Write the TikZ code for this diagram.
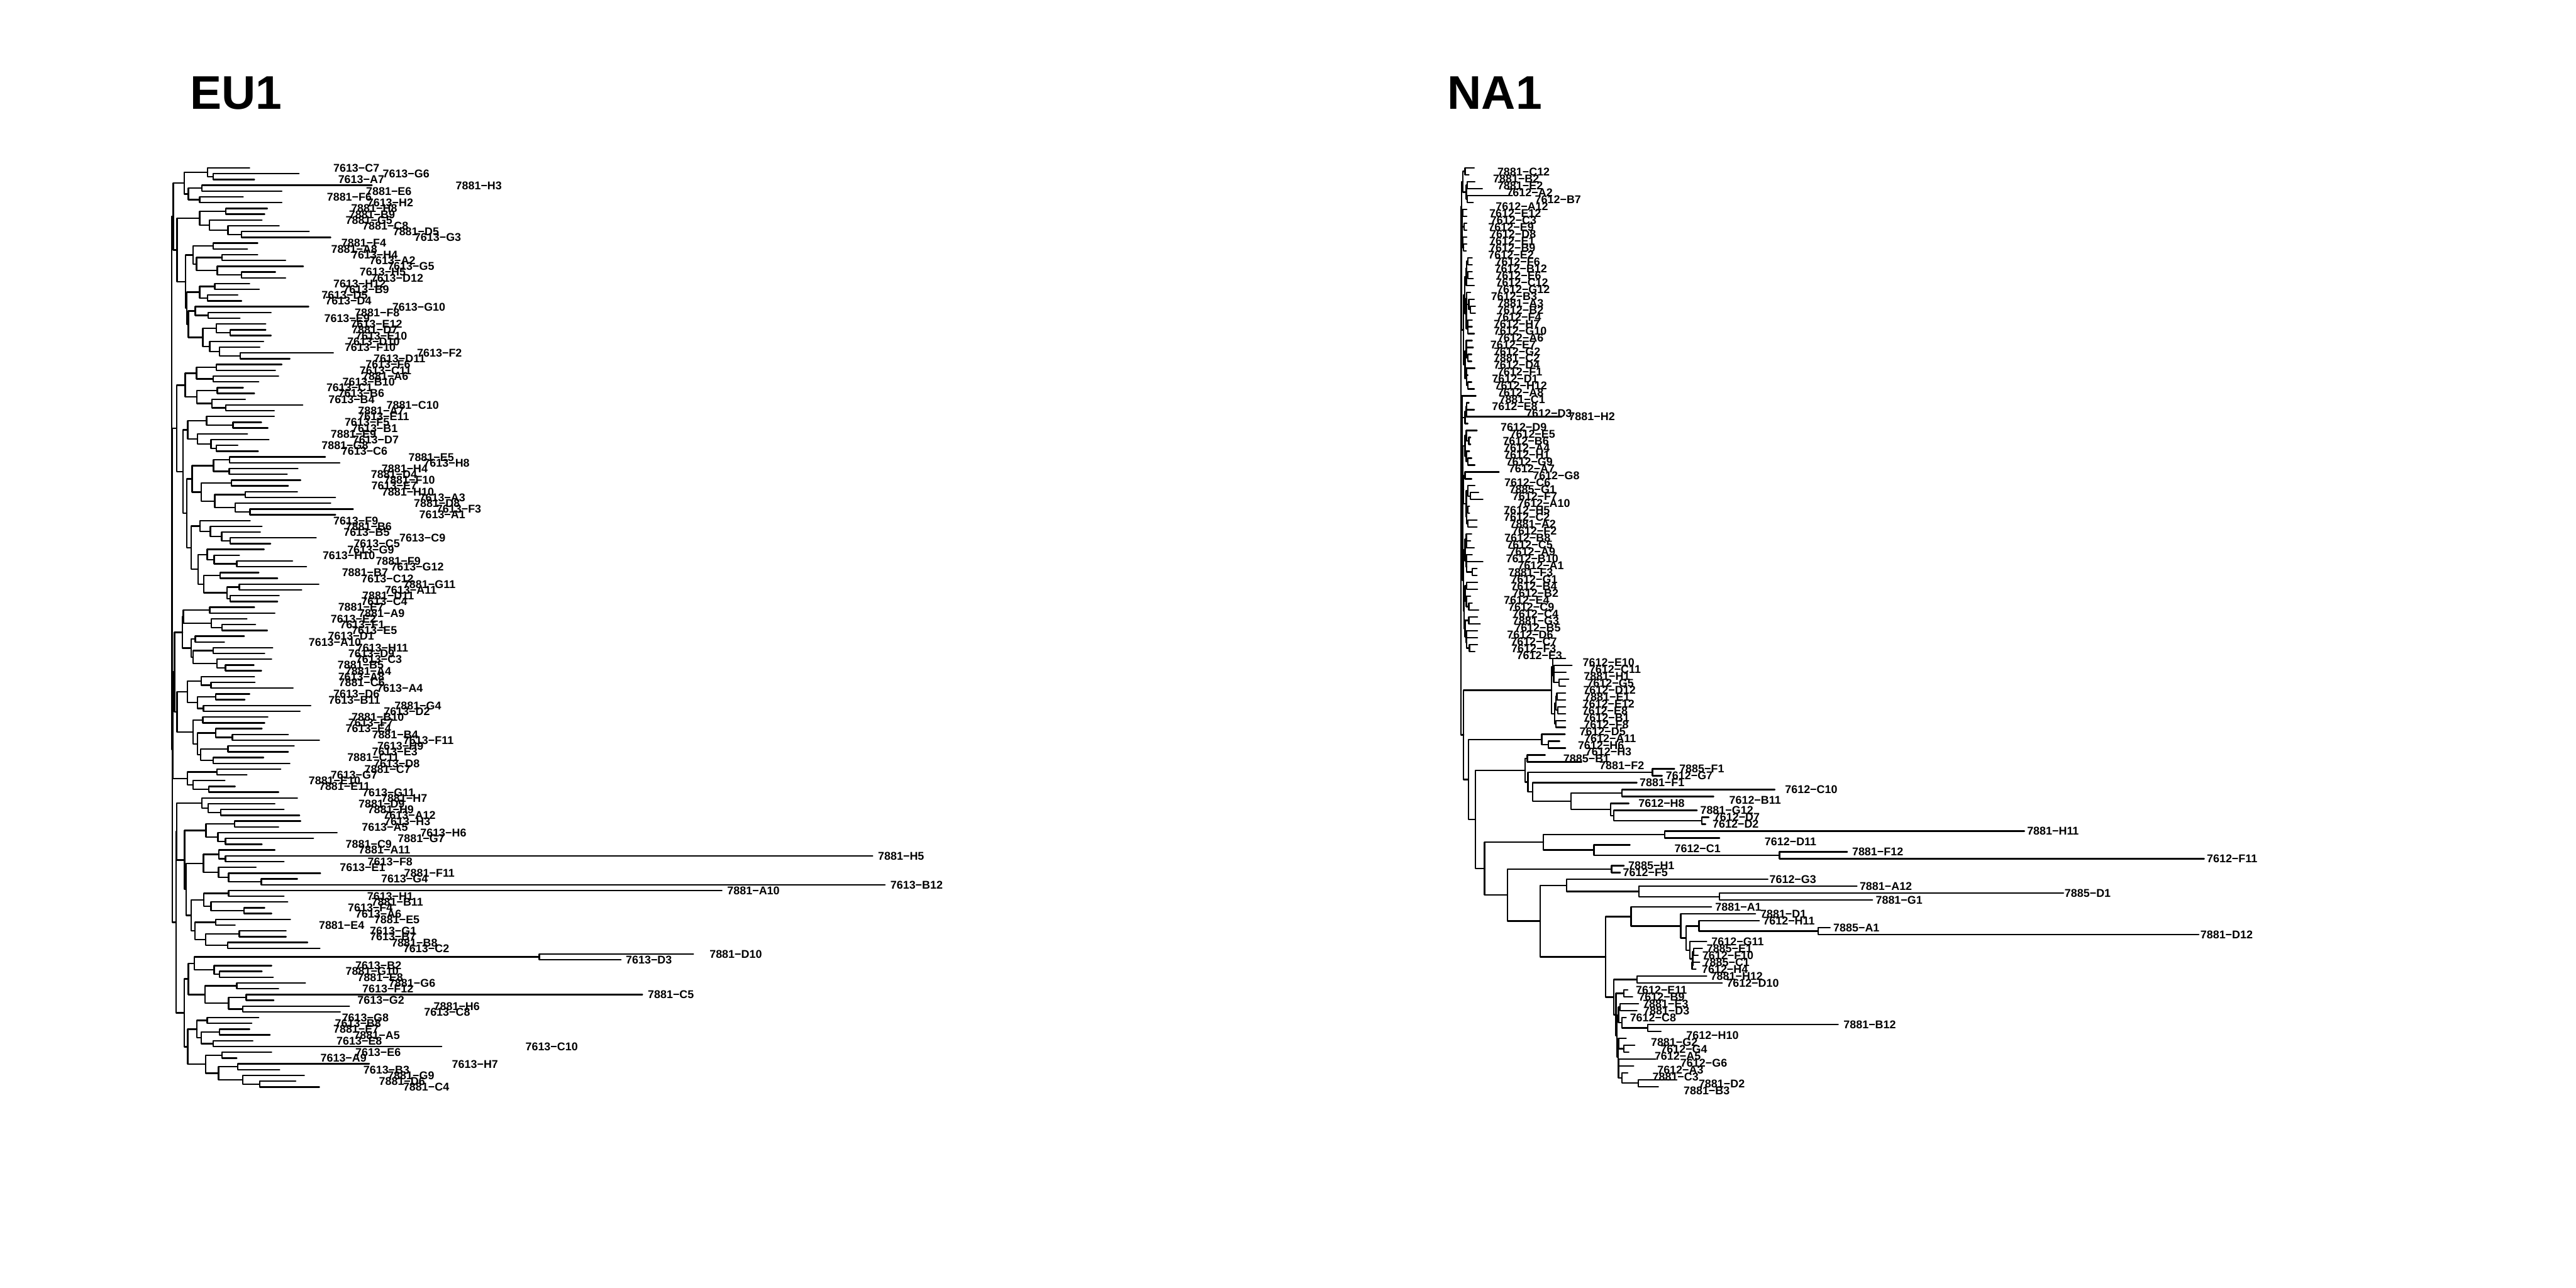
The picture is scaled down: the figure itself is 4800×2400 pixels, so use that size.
\documentclass[tikz,border=0pt]{standalone}
\usepackage{fontspec}
\setmainfont{Liberation Sans}
\usetikzlibrary{calc}

% one internal node: prefix, first tip, last tip of first child, last tip, x
\newcommand\clade[5]{%
  \edef\cladeA{#1#2\ifnum#2=#3 \else-#3\fi}%
  \edef\cladeB{#1\the\numexpr#3+1\relax\ifnum\numexpr#3+1\relax=#4 \else-#4\fi}%
  \edef\cladeN{#1#2-#4}%
  \path let \p1=(\cladeA), \p2=(\cladeB) in coordinate (\cladeN) at (#5pt,{0.5*(\y1+\y2)});
  \draw[branch] (\cladeA) -- (\cladeA -| \cladeN) -- (\cladeB -| \cladeN) -- (\cladeB);
}

\begin{document}
\begin{tikzpicture}[x=1pt,y=-1pt,
  branch/.style={line width=2.8pt,line cap=round,line join=round},
  tiplab/.style={anchor=west,inner sep=0pt,text height=15pt,text depth=0pt,font=\fontsize{21}{21}\selectfont\bfseries},
  paneltitle/.style={anchor=base west,inner sep=0pt,font=\fontsize{88}{88}\selectfont\bfseries}]
\useasboundingbox (0,0) rectangle (4800,2400);

\node[paneltitle] (eutitle) at (354,203) {EU1};
\node[paneltitle] (natitle) at (2697,203) {NA1};

% EU1
\foreach \n/\tx/\lx/\lab in {
1/465/621/7613−C7, 2/557/713/7613−G6, 3/474/630/7613−A7, 4/693/849/7881−H3,
5/525/682/7881−E6, 6/453/609/7881−F6, 7/525/684/7613−H2, 8/498/654/7881−H8,
9/493/650/7881−B9, 10/488/644/7881−G5, 11/520/675/7881−C8, 12/576/732/7881−D5,
13/616/772/7613−G3, 14/480/636/7881−F4, 15/461/617/7881−A8, 16/480/655/7613−H4,
17/532/688/7613−A2, 18/565/722/7613−G5, 19/513/670/7613−H5, 20/532/691/7613−D12,
21/465/621/7613−H12, 22/483/639/7613−B9, 23/443/599/7613−D5, 24/450/606/7613−D4,
25/575/731/7613−G10, 26/505/661/7881−F8, 27/447/604/7613−E9, 28/495/653/7613−E12,
29/495/655/7881−D7, 30/505/662/7613−E10, 31/491/647/7613−D10, 32/484/642/7613−F10,
33/621/777/7613−F2, 34/540/696/7613−D11, 35/525/681/7613−F6, 36/513/670/7613−C11,
37/519/675/7881−A6, 38/482/638/7613−B10, 39/453/608/7613−C1, 40/474/630/7613−B6,
41/457/612/7613−B4, 42/564/720/7881−C10, 43/511/667/7881−A7, 44/511/667/7613−E11,
45/487/642/7613−F5, 46/499/655/7613−B1, 47/461/616/7881−E9, 48/501/657/7613−D7,
49/443/599/7881−G8, 50/481/636/7613−C6, 51/606/761/7881−E5, 52/633/789/7613−H8,
53/555/711/7881−H4, 54/535/691/7881−D4, 55/560/715/7881−F10, 56/537/692/7613−E7,
57/554/711/7881−H10, 58/625/781/7613−A3, 59/616/771/7881−D8, 60/658/813/7613−F3,
61/625/781/7613−A1, 62/466/621/7613−F9, 63/488/644/7881−B6, 64/485/640/7613−B5,
65/589/744/7613−C9, 66/504/659/7613−C5, 67/492/647/7613−G9, 68/446/601/7613−H10,
69/545/700/7881−F9, 70/571/728/7613−G12, 71/482/637/7881−B7, 72/517/673/7613−C12,
73/594/751/7881−G11, 74/562/717/7613−A11, 75/520/675/7881−D11, 76/517/673/7613−C4,
77/474/630/7881−E7, 78/512/668/7881−A9, 79/460/616/7613−E2, 80/476/633/7613−F1,
81/498/655/7613−E5, 82/455/611/7613−D1, 83/418/575/7613−A10, 84/508/664/7613−H11,
85/493/649/7613−D9, 86/506/663/7613−C3, 87/473/629/7881−B5, 88/487/643/7881−A4,
89/474/630/7613−A8, 90/475/631/7881−C6, 91/546/702/7613−A4, 92/465/621/7613−D6,
93/456/612/7613−B11, 94/579/735/7881−G4, 95/559/715/7613−D2, 96/499/655/7881−B10,
97/493/649/7613−F7, 98/488/644/7613−E4, 99/537/693/7881−B4, 100/595/751/7613−F11,
101/548/703/7613−H9, 102/537/693/7613−E3, 103/491/647/7881−C11, 104/540/696/7613−D8,
105/523/679/7881−C7, 106/460/616/7613−G7, 107/419/575/7881−E10, 108/438/594/7881−E11,
109/519/675/7613−G11, 110/554/710/7881−H7, 111/512/668/7881−D9, 112/529/685/7881−H9,
113/558/714/7613−A12, 114/560/716/7613−H3, 115/519/674/7613−A5, 116/628/783/7613−H6,
117/584/741/7881−G7, 118/488/644/7881−C9, 119/512/668/7881−A11, 120/1626/1636/7881−H5,
121/529/685/7613−F8, 122/477/633/7613−E1, 123/597/753/7881−F11, 124/554/710/7613−G4,
125/1649/1659/7613−B12, 126/1345/1355/7881−A10, 127/529/684/7613−H1, 128/536/692/7881−B11,
129/493/648/7613−F4, 130/506/662/7613−A6, 131/541/697/7881−E5, 132/438/594/7881−E4,
133/533/689/7613−G1, 134/533/689/7613−B7, 135/573/729/7881−B8, 136/596/751/7613−C2,
137/1292/1322/7881−D10, 138/1157/1166/7613−D3, 139/506/662/7613−B2, 140/488/644/7881−G10,
141/509/666/7881−E8, 142/569/724/7881−G6, 143/519/675/7613−F12, 144/1197/1207/7881−C5,
145/510/666/7613−G2, 146/651/808/7881−H6, 147/634/790/7613−C8, 148/482/637/7613−G8,
149/469/624/7613−B8, 150/465/621/7881−E7, 151/503/659/7881−A5, 152/471/627/7613−E8,
153/823/979/7613−C10, 154/506/662/7613−E6, 155/441/597/7613−A9, 156/688/842/7613−H7,
157/521/677/7613−B3, 158/567/722/7881−G9, 159/551/706/7881−D6, 160/595/751/7881−C4}{
  \coordinate (e\n) at (\tx,{313+(\n-1)*10.77});
  \node[tiplab] (el\n) at (\lx,{313+(\n-1)*10.77}) {\lab};
}
\foreach \ci/\ck/\cj/\cx in {
2/2/3/397, 1/1/3/387, 4/4/5/376, 6/6/7/372, 4/5/7/351, 1/3/7/343,
8/8/9/421, 12/12/13/450, 11/11/13/425, 10/10/13/390, 8/9/13/372,
14/14/15/397, 16/16/17/414, 19/19/20/450, 18/18/20/405, 16/17/20/366, 14/15/20/360,
21/21/22/400, 23/23/24/387, 21/22/24/372, 26/26/27/388, 25/25/27/364,
29/29/30/429, 28/28/30/403, 33/33/34/448, 32/32/34/409, 31/31/34/391, 28/30/34/378,
25/27/34/351, 21/24/34/348, 14/20/34/346, 8/13/34/330, 1/7/34/323,
35/35/36/403, 37/37/38/397, 35/36/38/366, 39/39/40/405, 42/42/43/420.5, 41/41/43/394.6,
39/40/43/367, 35/38/43/345, 45/45/46/434, 44/44/46/385, 49/49/50/403, 48/48/50/393,
47/47/50/368, 44/46/50/350, 51/51/52/428, 53/53/54/427, 51/52/54/398, 55/55/56/431,
57/57/58/457, 60/60/61/466, 59/59/61/438, 57/58/61/400, 55/56/61/375, 51/54/61/358,
65/65/66/429, 64/64/66/413, 63/63/66/392, 62/62/66/373, 69/69/70/441, 68/68/70/399,
67/67/70/386, 71/71/72/410, 73/73/74/446, 75/75/76/429, 73/74/76/423, 71/72/76/380,
67/70/76/369, 62/66/76/356, 51/61/76/348, 44/50/76/341, 35/43/76/329,
77/77/78/391, 80/80/81/414, 79/79/81/394, 77/78/81/341.5, 82/82/83/364, 84/84/85/397,
87/87/88/420, 86/86/88/404, 84/85/88/360, 82/83/88/356, 77/81/88/340,
90/90/91/393, 89/89/91/375, 92/92/93/402, 94/94/95/379, 92/93/95/368, 89/91/95/349,
96/96/97/378, 99/99/100/433, 98/98/100/402, 101/101/102/425, 103/103/104/397,
101/102/104/374, 98/100/104/368, 96/97/104/360, 89/95/104/330, 77/88/104/325,
105/105/106/404, 108/108/109/389, 107/107/109/360, 105/106/109/349, 77/104/109/322,
112/112/113/411, 111/111/113/388, 110/110/113/376, 114/114/115/437, 117/117/118/420,
116/116/118/406, 114/115/118/384, 120/120/121/420, 119/119/121/408, 124/124/125/487,
123/123/125/426, 122/122/125/407, 119/121/125/379, 126/126/127/426, 129/129/130/455,
128/128/130/393, 126/127/130/380, 131/131/132/402, 133/133/134/446, 135/135/136/424,
133/134/136/383, 131/132/136/363, 126/130/136/356, 119/125/136/347, 114/118/136/344,
110/113/136/329, 137/137/138/1005, 140/140/141/409, 139/139/141/399, 137/138/141/362,
142/142/143/441, 144/144/145/459, 146/146/147/452, 144/145/147/426, 142/143/147/382,
137/141/147/351, 148/148/149/386, 150/150/151/409, 152/152/153/397, 150/151/153/375,
148/149/153/367, 154/154/155/414, 156/156/157/443, 159/159/160/484, 158/158/160/452,
156/157/160/407, 154/155/160/383, 148/153/160/350, 137/147/160/343, 110/136/160/328,
35/76/109/321, 35/109/160/321, 1/34/160/320}{
  \clade{e}{\ci}{\ck}{\cj}{\cx}
}

% NA1
\foreach \n/\tx/\lx/\lab in {
1/2747/2790/7881−C12, 2/2737/2782/7881−B2, 3/2748/2790/7881−E2, 4/2762/2807/7612−A2,
5/2818/2860/7612−B7, 6/2745/2787/7612−A12, 7/2733/2775/7612−E12, 8/2733/2777/7612−C3,
9/2733/2773/7612−E9, 10/2733/2776/7612−D8, 11/2733/2775/7612−E1, 12/2733/2775/7612−B9,
13/2732/2773/7612−E2, 14/2743/2786/7612−F6, 15/2743/2785/7612−B12, 16/2743/2787/7612−E6,
17/2745/2787/7612−C12, 18/2747/2789/7612−G12, 19/2740/2778/7612−B3, 20/2747/2790/7881−A3,
21/2749/2790/7612−B2, 22/2749/2788/7612−F4, 23/2743/2783/7612−H7, 24/2743/2783/7612−G10,
25/2747/2790/7612−A6, 26/2743/2777/7612−E7, 27/2745/2783/7612−G2, 28/2742/2783/7881−C2,
29/2742/2783/7612−D4, 30/2748/2790/7612−F1, 31/2735/2780/7612−D1, 32/2742/2785/7612−H12,
33/2747/2790/7612−A8, 34/2750/2793/7881−C1, 35/2737/2780/7612−E8, 36/2747/2843/7612−D3,
37/2910/2923/7881−H2, 38/2735/2796/7612−D9, 39/2752/2813/7612−E5, 40/2740/2800/7612−B6,
41/2740/2802/7612−A4, 42/2738/2802/7612−H1, 43/2742/2806/7612−G9, 44/2748/2811/7612−A7,
45/2793/2856/7612−G8, 46/2742/2803/7612−C6, 47/2748/2812/7885−G1, 48/2755/2818/7612−F7,
49/2763/2828/7612−A10, 50/2738/2802/7612−H5, 51/2738/2802/7612−C2, 52/2752/2813/7881−A2,
53/2752/2817/7612−F2, 54/2742/2803/7612−B8, 55/2740/2807/7612−C5, 56/2747/2812/7612−A9,
57/2743/2806/7612−B10, 58/2763/2828/7612−A1, 59/2752/2810/7881−F3, 60/2752/2815/7612−G1,
61/2753/2815/7612−B4, 62/2753/2818/7612−B2, 63/2740/2802/7612−E4, 64/2743/2810/7612−C9,
65/2755/2818/7612−C4, 66/2753/2818/7881−G3, 67/2758/2822/7612−B5, 68/2753/2808/7612−D6,
69/2753/2815/7612−C7, 70/2753/2816/7612−F3, 71/2748/2826/7612−E3, 72/2917/2949/7612−E10,
73/2929/2961/7612−C11, 74/2918/2951/7881−H1, 75/2923/2957/7612−G5, 76/2917/2950/7612−D12,
77/2917/2952/7881−E1, 78/2917/2949/7612−E12, 79/2917/2948/7612−E8, 80/2917/2950/7612−B1,
81/2917/2951/7612−F8, 82/2917/2943/7612−D5, 83/2916/2952/7612−A11, 84/2906/2940/7612−H6,
85/2917/2954/7612−H3, 86/2879/2913/7885−B1, 87/2947/2980/7881−F2, 88/3120/3129/7885−F1,
89/3097/3104/7612−G7, 90/3050/3055/7881−F1, 91/3307/3326/7612−C10, 92/3193/3222/7612−B11,
93/3035/3053/7612−H8, 94/3162/3168/7881−G12, 95/3184/3193/7612−D7, 96/3178/3191/7612−D2,
97/3772/3777/7881−H11, 98/3204/3288/7612−D11, 99/3037/3120/7612−C1, 100/3442/3451/7881−F12,
101/4107/4112/7612−F11, 102/3026/3034/7885−H1, 103/3019/3024/7612−F5, 104/3294/3297/7612−G3,
105/3460/3465/7881−A12, 106/3845/3847/7885−D1, 107/3489/3495/7881−G1, 108/3189/3196/7881−A1,
109/3271/3280/7881−D1, 110/3278/3285/7612−H11, 111/3410/3416/7885−A1, 112/4097/4100/7881−D12,
113/3180/3189/7612−G11, 114/3172/3180/7885−E1, 115/3164/3172/7612−F10, 116/3167/3174/7885−C1,
117/3160/3171/7612−H4, 118/3180/3187/7881−H12, 119/3209/3217/7612−D10, 120/3033/3048/7612−E11,
121/3042/3053/7612−B9, 122/3053/3061/7881−E3, 123/3050/3062/7881−D3, 124/3030/3037/7612−C8,
125/3425/3435/7881−B12, 126/3095/3142/7612−H10, 127/3030/3076/7881−G2, 128/3046/3094/7612−G4,
129/3035/3083/7612−A5, 130/3085/3131/7612−G6, 131/3044/3088/7612−A3, 132/3033/3079/7881−C3,
133/3120/3165/7881−D2, 134/3090/3137/7881−B3}{
  \coordinate (n\n) at (\tx,{313+(\n-1)*12.87});
  \node[tiplab] (nl\n) at (\lx,{313+(\n-1)*12.87+ifthenelse(\lx-\tx>25,7,0)}) {\lab};
}
\foreach \ci/\ck/\cj/\cx in {
1/1/2/2730, 3/3/4/2734, 5/5/6/2734, 3/4/6/2732, 1/2/6/2726, 7/7/8/2725, 9/9/10/2728,
7/8/10/2724, 12/12/13/2727, 11/11/13/2725, 7/10/13/2724, 1/6/13/2723.5,
14/14/15/2735, 16/16/17/2735, 14/15/17/2733, 14/17/18/2732, 21/21/22/2740, 20/20/22/2737,
19/19/22/2733, 23/23/24/2735, 23/24/25/2735, 19/22/25/2732, 14/18/25/2729,
26/26/27/2732, 28/28/29/2735, 26/27/29/2732, 30/30/31/2732, 32/32/33/2735, 30/31/33/2733,
26/29/33/2730, 14/25/33/2727, 1/13/33/2723,
35/35/36/2733, 35/36/37/2732, 35/37/38/2730, 34/34/38/2724, 40/40/41/2737, 39/39/41/2732,
43/43/44/2735, 42/42/44/2732, 39/41/44/2730, 45/45/46/2730, 48/48/49/2740, 47/47/49/2735,
50/50/51/2735, 52/52/53/2735, 50/51/53/2733, 47/49/53/2732, 45/46/53/2727, 39/44/53/2726,
55/55/56/2732, 54/54/56/2732, 59/59/60/2743, 58/58/60/2733, 57/57/60/2732, 54/56/60/2730,
61/61/62/2733, 64/64/65/2737, 63/63/65/2732, 61/62/65/2730, 66/66/67/2737, 70/70/71/2738,
69/69/71/2733, 68/68/71/2732, 66/67/71/2730, 61/65/71/2728, 54/60/71/2727, 39/53/71/2725,
34/38/71/2724, 1/33/71/2722.5,
73/73/74/2896, 75/75/76/2905, 73/74/76/2895, 72/72/76/2893, 77/77/78/2901, 79/79/80/2903,
77/78/80/2899, 81/81/82/2899, 77/80/82/2897, 72/76/82/2891, 84/84/85/2885, 83/83/85/2873,
86/86/87/2846, 88/88/89/3079, 91/91/92/3022, 95/95/96/3171, 94/94/96/3007, 93/93/96/3001,
91/92/96/2927, 90/90/96/2856, 88/89/96/2847, 86/87/96/2842, 97/97/98/3102,
100/100/101/3316, 99/99/101/2970, 97/98/101/2876, 102/102/103/3003, 106/106/107/3204,
105/105/107/3054, 104/104/107/2919, 111/111/112/3388, 110/110/112/3166, 114/114/115/3156,
116/116/117/3153, 114/115/117/3154, 113/113/117/3149, 110/112/117/3142, 109/109/117/3132,
108/108/117/3039, 118/118/119/3050, 120/120/121/3026, 122/122/123/3019, 125/125/126/3070,
124/124/126/3022, 122/123/126/3016, 128/128/129/3026, 127/127/129/3016, 130/130/131/3016,
133/133/134/3053, 132/132/134/3022, 130/131/134/3016, 127/129/134/3015, 122/126/134/3013,
120/121/134/3011, 118/119/134/3007, 108/117/134/2992, 104/107/134/2870, 102/103/134/2809,
97/101/134/2766, 86/96/134/2749, 83/85/134/2736, 72/82/134/2727, 1/71/134/2722}{
  \clade{n}{\ci}{\ck}{\cj}{\cx}
}
\end{tikzpicture}
\end{document}
